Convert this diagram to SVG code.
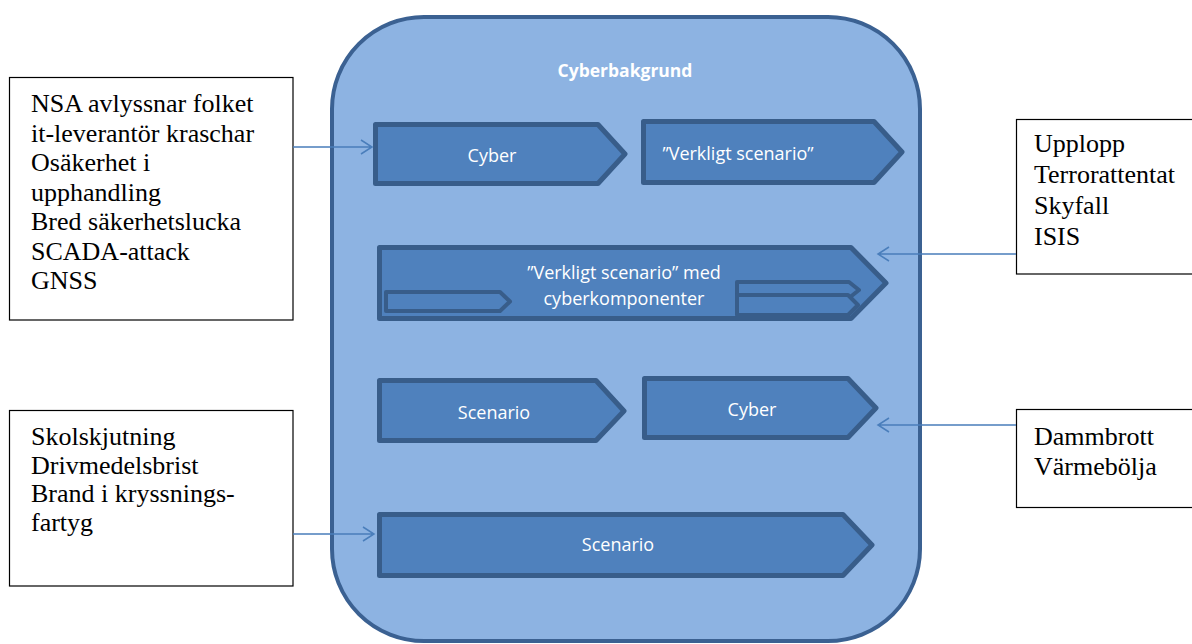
<svg xmlns="http://www.w3.org/2000/svg" width="1192" height="644" viewBox="0 0 1192 644">
<defs>
<style>
.box{fill:#fff;stroke:#000;stroke-width:1.2}
.bt{font-family:"Liberation Serif","Times New Roman",serif;font-size:26px;fill:#000}
.chev{fill:#4F81BD;stroke:#385D8A;stroke-width:5;stroke-linejoin:round}
.chev2{fill:#4F81BD;stroke:#385D8A;stroke-width:4;stroke-linejoin:round}
.ct{font-family:"Open Sans","Noto Sans",sans-serif;font-size:18px;fill:#fff;text-anchor:middle}
.conn{stroke:#4A7EBB;stroke-width:1.5;fill:none}
</style>
</defs>
<rect width="1192" height="644" fill="#fff"/>
<g id="container">
<rect x="332" y="17" width="588" height="624" rx="92" ry="92" fill="#8DB3E2" stroke="#3B6192" stroke-width="4"/>
<text x="625" y="77" font-family="'Open Sans','Noto Sans',sans-serif" font-size="17.5" font-weight="bold" fill="#fff" text-anchor="middle">Cyberbakgrund</text>
</g>
<g id="cyber1">
<path class="chev" d="M375.5,124.5 H598 L625,154 L598,183.5 H375.5 Z"/>
<text class="ct" x="492" y="162">Cyber</text>
</g>
<g id="verkligt1">
<path class="chev" d="M643.5,121.5 H874 L902,152 L874,182.5 H643.5 Z"/>
<text class="ct" x="738" y="160" font-size="17.5">”Verkligt scenario”</text>
</g>
<g id="verkligt-cyber">
<path class="chev" d="M379.5,247.5 H851 L886,283 L851,318.5 H379.5 Z"/>
<path class="chev2" d="M386,292 H500 L510,301.5 L500,311 H386 Z"/>
<path class="chev2" d="M737,282 H849 L859,290 L849,298 H737 Z"/>
<path class="chev2" d="M737,295 H848 L858,305 L848,315 H737 Z"/>
<text class="ct" x="624" y="279">”Verkligt scenario” med</text>
<text class="ct" x="624" y="305">cyberkomponenter</text>
</g>
<g id="scenario1">
<path class="chev" d="M379.5,380.5 H596 L624,411 L596,440.5 H379.5 Z"/>
<text class="ct" x="494" y="419">Scenario</text>
</g>
<g id="cyber2">
<path class="chev" d="M644.5,378.5 H848 L876,408 L848,437.5 H644.5 Z"/>
<text class="ct" x="752" y="416">Cyber</text>
</g>
<g id="scenario2">
<path class="chev" d="M379.5,514.5 H843 L872,545 L843,575.5 H379.5 Z"/>
<text class="ct" x="618" y="551">Scenario</text>
</g>
<g id="box-left1">
<rect class="box" x="9.5" y="77.5" width="283.5" height="242.5"/>
<text class="bt"><tspan x="31" y="112">NSA avlyssnar folket</tspan><tspan x="31" y="141.5">it-leverantör kraschar</tspan><tspan x="31" y="171">Osäkerhet i</tspan><tspan x="31" y="200.5">upphandling</tspan><tspan x="31" y="230">Bred säkerhetslucka</tspan><tspan x="31" y="259.5">SCADA-attack</tspan><tspan x="31" y="289">GNSS</tspan></text>
</g>
<g id="box-left2">
<rect class="box" x="9.5" y="410.5" width="283.5" height="175.5"/>
<text class="bt"><tspan x="31" y="444.5">Skolskjutning</tspan><tspan x="31" y="473.5">Drivmedelsbrist</tspan><tspan x="31" y="502">Brand i kryssnings-</tspan><tspan x="31" y="531">fartyg</tspan></text>
</g>
<g id="box-right1">
<rect class="box" x="1016.5" y="119.5" width="190" height="154.5"/>
<text class="bt"><tspan x="1034" y="152">Upplopp</tspan><tspan x="1034" y="183">Terrorattentat</tspan><tspan x="1034" y="214">Skyfall</tspan><tspan x="1034" y="245">ISIS</tspan></text>
</g>
<g id="box-right2">
<rect class="box" x="1016.5" y="409.5" width="190" height="98"/>
<text class="bt"><tspan x="1034" y="445">Dammbrott</tspan><tspan x="1034" y="475">Värmebölja</tspan></text>
</g>
<g id="connectors">
<path class="conn" d="M293,147 H372 M361,140 L372,147 L361,154"/>
<path class="conn" d="M1016,254 H878 M889,247 L878,254 L889,261"/>
<path class="conn" d="M1016,425 H878 M889,418 L878,425 L889,432"/>
<path class="conn" d="M293,534 H374 M363,527 L374,534 L363,541"/>
</g>
</svg>
